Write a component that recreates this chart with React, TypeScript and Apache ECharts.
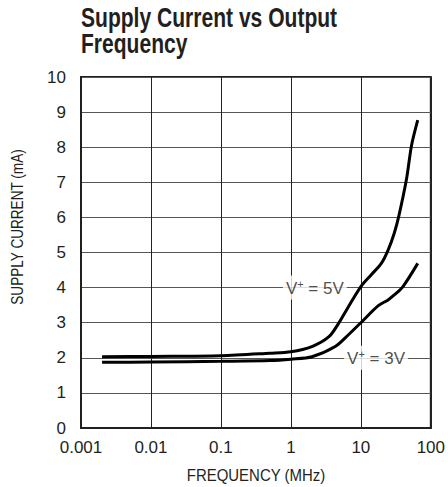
import React, { useEffect, useRef } from "react";
import * as echarts from "echarts";

const freq5V = [0.002, 0.01, 0.1, 0.5, 1, 2, 3.5, 4.8, 6.4, 10, 14, 19.6, 24.5, 30, 35, 45, 53, 65];
const cur5V = [2.03, 2.04, 2.06, 2.13, 2.17, 2.32, 2.6, 2.98, 3.4, 4.03, 4.36, 4.69, 5.07, 5.55, 6.05, 7.1, 8.05, 8.77];
const freq3V = [0.002, 0.01, 0.1, 0.5, 1, 2, 4.3, 6.6, 10, 17.6, 24.5, 30, 40, 65];
const cur3V = [1.87, 1.88, 1.9, 1.92, 1.96, 2.03, 2.32, 2.65, 3.0, 3.48, 3.65, 3.79, 4.03, 4.69];
const xTickLabels = ["0.001", "0.01", "0.1", "1", "10", "100"];
const curveLabels = [
  { text: "5V", at: [2.2, 4] },
  { text: "3V", at: [16.5, 2] },
];
const titleLines = ["Supply Current vs Output", "Frequency"];
const xName = "FREQUENCY (MHz)";
const yName = "SUPPLY CURRENT (mA)";

const FONT = "'Liberation Sans', Arial, sans-serif";
const INK = "#231f20";

export default function App() {
  const ref = useRef<HTMLDivElement>(null);
  useEffect(() => {
    if (!ref.current) return;
    const chart = echarts.init(ref.current, undefined, { renderer: "svg" });
    const pairs = (xs: number[], ys: number[]) => xs.map((x, i) => [x, ys[i]]);
    chart.setOption({
      animation: false,
      backgroundColor: "#fff",
      grid: {
        left: 81,
        right: 15,
        top: 77,
        bottom: 59,
        show: true,
        borderColor: INK,
        borderWidth: 2,
        backgroundColor: "transparent",
      },
      xAxis: {
        type: "log",
        logBase: 10,
        min: 0.001,
        max: 100,
        axisLine: { show: true, lineStyle: { color: INK, width: 2 } },
        axisTick: { show: false },
        minorTick: { show: false },
        splitLine: { show: true, lineStyle: { color: "#222", width: 1 } },
        axisLabel: {
          margin: 11,
          fontFamily: FONT,
          fontSize: 17,
          color: INK,
          formatter: (v: number) => xTickLabels[Math.round(Math.log10(v)) + 3],
        },
      },
      yAxis: {
        type: "value",
        min: 0,
        max: 10,
        interval: 1,
        axisLine: { show: true, lineStyle: { color: INK, width: 2 } },
        axisTick: { show: false },
        splitLine: { show: true, lineStyle: { color: "#555", width: 1 } },
        axisLabel: { margin: 15, fontFamily: FONT, fontSize: 17, color: INK },
      },
      graphic: [
        {
          type: "text",
          x: 81,
          y: 4,
          scaleX: 0.78,
          style: {
            text: titleLines[0],
            fontFamily: FONT,
            fontWeight: "bold",
            fontSize: 27,
            fill: INK,
            textAlign: "left",
            textVerticalAlign: "top",
          },
        },
        {
          type: "text",
          x: 81,
          y: 30,
          scaleX: 0.78,
          style: {
            text: titleLines[1],
            fontFamily: FONT,
            fontWeight: "bold",
            fontSize: 27,
            fill: INK,
            textAlign: "left",
            textVerticalAlign: "top",
          },
        },
        {
          type: "text",
          x: 17,
          y: 227,
          rotation: Math.PI / 2,
          scaleX: 0.8,
          style: {
            text: yName,
            fontFamily: FONT,
            fontSize: 17,
            fill: INK,
            textAlign: "center",
            textVerticalAlign: "middle",
          },
        },
        {
          type: "text",
          x: 256,
          y: 475,
          scaleX: 0.88,
          style: {
            text: xName,
            fontFamily: FONT,
            fontSize: 17,
            fill: INK,
            textAlign: "center",
            textVerticalAlign: "middle",
          },
        },
      ],
      series: [
        {
          type: "line",
          data: pairs(freq5V, cur5V),
          smooth: 0.3,
          showSymbol: false,
          lineStyle: { color: "#000", width: 3 },
          z: 3,
        },
        {
          type: "line",
          data: pairs(freq3V, cur3V),
          smooth: 0.3,
          showSymbol: false,
          lineStyle: { color: "#000", width: 3 },
          z: 3,
        },
        {
          type: "scatter",
          symbolSize: 0,
          z: 4,
          data: curveLabels.map((l) => ({ value: l.at, name: l.text })),
          label: {
            show: true,
            position: "inside",
            backgroundColor: "#fff",
            padding: [3, 3, 2, 3],
            formatter: (p: any) => `{a|V}{s|+}{a| = ${p.name}}`,
            rich: {
              a: { fontFamily: FONT, fontSize: 17, color: INK },
              s: { fontFamily: FONT, fontSize: 11, color: INK, verticalAlign: "top", padding: [0, 0, 8, 0] },
            },
          },
        },
      ],
    });
    return () => chart.dispose();
  }, []);
  return <div ref={ref} style={{ position: "fixed", left: 0, top: 0, width: 448, height: 487 }} />;
}
